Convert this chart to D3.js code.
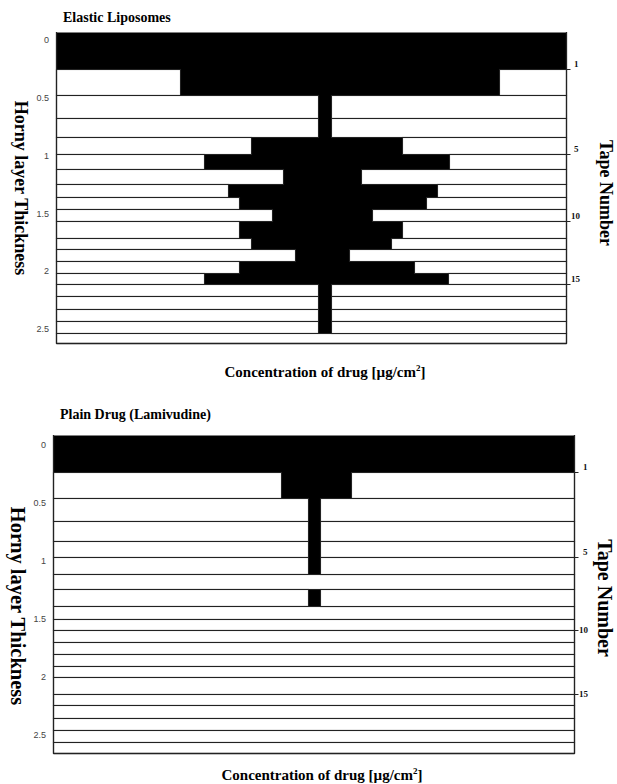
<!DOCTYPE html>
<html>
<head>
<meta charset="utf-8">
<script src="https://cdn.jsdelivr.net/npm/d3@7"></script>
<style>
  html, body { margin: 0; padding: 0; background: #fff; }
  svg { display: block; }
</style>
</head>
<body>
<svg id="chart" width="617" height="784"></svg>
<script>
// ---------- DATA ----------
// Tape numbers (20 tape strips per panel)
const tapes = d3.range(1, 21);
// Right-axis tape tick labels
const tapeTicks = [1, 5, 10, 15];
// Left-axis horny layer thickness tick labels
const thicknessTicks = [0, 0.5, 1, 1.5, 2, 2.5];

// Panel 1: Elastic Liposomes
const elasticTitle = "Elastic Liposomes";
// thickness of horny layer removed by each tape
const elasticThickness = [0.320, 0.225, 0.199, 0.164, 0.147, 0.130, 0.130, 0.112, 0.104, 0.104,
                          0.147, 0.095, 0.104, 0.104, 0.095, 0.104, 0.112, 0.104, 0.104, 0.087];
// drug concentration spread to the left / right of the centre line
const elasticLeft  = [100, 53.8, 2.4, 2.4, 27.3, 44.9, 15.4, 35.9, 31.8, 19.5,
                      31.8, 27.3, 11.0, 31.8, 44.9, 2.4, 2.4, 2.4, 2.4, 0];
const elasticRight = [90, 65.0, 2.5, 2.5, 28.9, 46.4, 13.6, 42.0, 37.9, 17.7,
                      28.9, 24.8, 9.2, 33.4, 46.0, 2.5, 2.5, 2.5, 2.5, 0];
const elasticDomain = [-100, 90];
const elasticDepth = 2.69;

// Panel 2: Plain Drug (Lamivudine)
const plainTitle = "Plain Drug (Lamivudine)";
const plainThickness = [0.319, 0.224, 0.198, 0.172, 0.138, 0.147, 0.129, 0.147, 0.112, 0.095,
                        0.103, 0.103, 0.103, 0.095, 0.147, 0.095, 0.112, 0.103, 0.103, 0.095];
const plainLeft  = [100, 12.5, 2.1, 2.1, 2.1, 2.1, 0, 2.1, 0, 0,
                    0, 0, 0, 0, 0, 0, 0, 0, 0, 0];
const plainRight = [100, 14.4, 2.5, 2.5, 2.5, 2.5, 0, 2.5, 0, 0,
                    0, 0, 0, 0, 0, 0, 0, 0, 0, 0];
const plainDomain = [-100, 100];
const plainDepth = 2.74;

const xLabel = "Concentration of drug [µg/cm";
const yLabel = "Horny layer Thickness";
const rightLabel = "Tape Number";

// ---------- DRAW ----------
const svg = d3.select("#chart");
const serif = "'Liberation Serif', 'Times New Roman', serif";
const sans = "'Liberation Sans', Arial, sans-serif";

function drawPanel(o) {
  const g = svg.append("g");
  const x = d3.scaleLinear().domain(o.domain).range([o.left, o.right]);
  const y = d3.scaleLinear().domain([0, o.depth]).range([o.top, o.bottom]);
  const cum = [0];
  o.thickness.forEach((t, i) => cum.push(cum[i] + t));
  const px = v => Math.round(v) + 0.5;

  const bands = tapes.map((t, i) => ({
    tape: t,
    y0: px(y(cum[i])),
    y1: px(y(Math.min(cum[i + 1], o.depth))),
    l: o.leftVals[i],
    r: o.rightVals[i],
    empty: o.leftVals[i] + o.rightVals[i] === 0
  }));

  // black concentration bars
  g.selectAll("rect.bar").data(bands.filter(d => !d.empty)).join("rect")
    .attr("class", "bar")
    .attr("x", d => Math.round(x(-d.l)))
    .attr("width", d => Math.round(x(d.r)) - Math.round(x(-d.l)))
    .attr("y", d => d.y0)
    .attr("height", d => d.y1 - d.y0 + 0.5)
    .attr("fill", "#000");

  // white left remainders (full width when there is no drug)
  g.selectAll("rect.wl").data(bands.filter(d => d.empty || x(-d.l) - o.left > 1)).join("rect")
    .attr("class", "wl")
    .attr("x", px(o.left))
    .attr("width", d => (d.empty ? px(o.right) : px(x(-d.l))) - px(o.left))
    .attr("y", d => d.y0)
    .attr("height", d => d.y1 - d.y0)
    .attr("fill", "#fff").attr("stroke", "#222").attr("stroke-width", 1.1);

  // white right remainders
  g.selectAll("rect.wr").data(bands.filter(d => !d.empty && o.right - x(d.r) > 1)).join("rect")
    .attr("class", "wr")
    .attr("x", d => px(x(d.r)))
    .attr("width", d => px(o.right) - px(x(d.r)))
    .attr("y", d => d.y0)
    .attr("height", d => d.y1 - d.y0)
    .attr("fill", "#fff").attr("stroke", "#222").attr("stroke-width", 1.1);

  // axis lines
  g.append("line").attr("x1", px(o.left)).attr("x2", px(o.left))
    .attr("y1", o.top).attr("y2", px(o.bottom)).attr("stroke", "#222").attr("stroke-width", 1.3);
  g.append("line").attr("x1", px(o.right)).attr("x2", px(o.right))
    .attr("y1", o.top).attr("y2", px(o.bottom)).attr("stroke", "#222").attr("stroke-width", 1.3);
  g.append("line").attr("x1", px(o.left)).attr("x2", px(o.right))
    .attr("y1", px(o.bottom)).attr("y2", px(o.bottom)).attr("stroke", "#222").attr("stroke-width", 1.3);

  // left thickness tick labels
  g.selectAll("text.yt").data(thicknessTicks).join("text")
    .attr("class", "yt")
    .attr("x", o.left - 7)
    .attr("y", d => y(d) + o.labelDy)
    .attr("dy", "0.35em")
    .attr("text-anchor", "end")
    .attr("font-family", sans).attr("font-size", 9).attr("fill", "#444")
    .text(d => d);

  // right tape ticks
  const rt = tapeTicks.map(t => ({ t, yy: px(y(cum[t])) }));
  g.selectAll("line.rt").data(rt).join("line")
    .attr("class", "rt")
    .attr("x1", px(o.right)).attr("x2", px(o.right) + 4)
    .attr("y1", d => d.yy).attr("y2", d => d.yy)
    .attr("stroke", "#222").attr("stroke-width", 1);
  g.selectAll("text.rtl").data(rt).join("text")
    .attr("class", "rtl")
    .attr("x", d => o.right + (d.t < 10 ? o.rlx1 : o.rlx2))
    .attr("y", d => d.yy + (d.t < 10 ? o.rdy1 : o.rdy2))
    .attr("dy", "0.35em")
    .attr("font-family", serif).attr("font-weight", "bold").attr("font-size", 9)
    .attr("fill", "#111")
    .text(d => d.t);

  // title
  g.append("text").attr("x", o.titleX).attr("y", o.titleY)
    .attr("font-family", serif).attr("font-weight", "bold").attr("font-size", 14)
    .text(o.title);

  // y-axis title
  g.append("text")
    .attr("transform", `translate(${o.ytX},${o.ytY}) rotate(90)`)
    .attr("text-anchor", "middle").attr("dy", "0.35em")
    .attr("font-family", serif).attr("font-weight", "bold").attr("font-size", o.ytSize)
    .text(yLabel);

  // right title
  g.append("text")
    .attr("transform", `translate(${o.rtX},${o.rtY}) rotate(90)`)
    .attr("text-anchor", "middle").attr("dy", "0.35em")
    .attr("font-family", serif).attr("font-weight", "bold").attr("font-size", o.rtSize)
    .text(rightLabel);

  // x-axis title
  const xt = g.append("text")
    .attr("x", o.xtX).attr("y", o.xtY)
    .attr("text-anchor", "middle")
    .attr("font-family", serif).attr("font-weight", "bold").attr("font-size", 15);
  xt.append("tspan").text(xLabel);
  xt.append("tspan").attr("font-size", 9).attr("dy", -6).text("2");
  xt.append("tspan").attr("dy", 6).text("]");
}

drawPanel({
  title: elasticTitle, thickness: elasticThickness, leftVals: elasticLeft, rightVals: elasticRight,
  domain: elasticDomain, depth: elasticDepth,
  left: 56, right: 566, top: 32, bottom: 343, labelDy: 8,
  rlx1: 8, rlx2: 5, rdy1: -6, rdy2: -6,
  titleX: 63, titleY: 22,
  ytX: 21, ytY: 188, ytSize: 18,
  rtX: 606, rtY: 193, rtSize: 18,
  xtX: 325, xtY: 377
});

drawPanel({
  title: plainTitle, thickness: plainThickness, leftVals: plainLeft, rightVals: plainRight,
  domain: plainDomain, depth: plainDepth,
  left: 53, right: 574, top: 435, bottom: 753, labelDy: 10,
  rlx1: 9, rlx2: 5, rdy1: -6, rdy2: -1,
  titleX: 60, titleY: 419,
  ytX: 18, ytY: 606, ytSize: 20.5,
  rtX: 605, rtY: 598, rtSize: 20,
  xtX: 322, xtY: 780
});
</script>
</body>
</html>
